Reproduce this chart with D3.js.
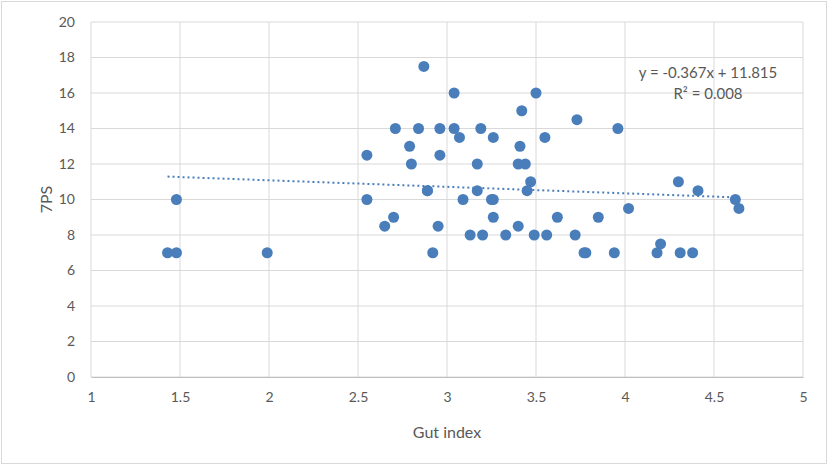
<!DOCTYPE html>
<html>
<head>
<meta charset="utf-8">
<script src="https://cdnjs.cloudflare.com/ajax/libs/d3/7.8.5/d3.min.js"></script>
<style>
  body { margin: 0; background: #fff; }
  svg { display: block; }
  text { font-family: Lato, "Open Sans", sans-serif; fill: #595959; }
</style>
</head>
<body>
<svg id="canvas"></svg>
<script>
// Gut index (x) vs 7PS (y)
const gutIndex = [
  1.43, 1.48, 1.48, 1.99,
  2.55, 2.55, 2.65, 2.70, 2.71, 2.79, 2.80, 2.84, 2.87, 2.89, 2.89, 2.92, 2.95, 2.96, 2.96,
  3.04, 3.04, 3.07, 3.09, 3.13, 3.17, 3.17, 3.19, 3.20, 3.25, 3.26, 3.26, 3.26,
  3.33, 3.40, 3.40, 3.41, 3.42, 3.44, 3.45, 3.47, 3.49, 3.50, 3.55, 3.56, 3.62,
  3.72, 3.73, 3.77, 3.78, 3.85, 3.94, 3.96, 4.02,
  4.18, 4.20, 4.30, 4.31, 4.38, 4.41, 4.62, 4.64
];
const sevenPS = [
  7, 7, 10, 7,
  12.5, 10, 8.5, 9, 14, 13, 12, 14, 17.5, 10.5, 10.5, 7, 8.5, 12.5, 14,
  16, 14, 13.5, 10, 8, 12, 10.5, 14, 8, 10, 13.5, 9, 10,
  8, 12, 8.5, 13, 15, 12, 10.5, 11, 8, 16, 13.5, 8, 9,
  8, 14.5, 7, 7, 9, 7, 14, 9.5,
  7, 7.5, 11, 7, 7, 10.5, 10, 9.5
];
const xTicks = [1, 1.5, 2, 2.5, 3, 3.5, 4, 4.5, 5];
const yTicks = [0, 2, 4, 6, 8, 10, 12, 14, 16, 18, 20];
const trendSlope = -0.367;
const trendIntercept = 11.815;
const trendLabel = ["y = -0.367x + 11.815", "R² = 0.008"];

const width = 830;
const height = 466;
const margin = { top: 22, right: 27, bottom: 89, left: 91 };
const innerWidth = width - margin.left - margin.right;
const innerHeight = height - margin.top - margin.bottom;

const svg = d3.select("#canvas").attr("width", width).attr("height", height);

// chart border
svg.append("rect")
  .attr("x", 1.5).attr("y", 1.5)
  .attr("width", width - 5).attr("height", height - 4)
  .attr("fill", "#fff")
  .attr("stroke", "#d9d9d9");

const xScale = d3.scaleLinear().domain([1, 5]).range([0, innerWidth]);
const yScale = d3.scaleLinear().domain([0, 20]).range([innerHeight, 0]);

const g = svg.append("g").attr("transform", `translate(${margin.left}, ${margin.top})`);

// grid
g.append("g").selectAll("line")
  .data(xTicks)
  .join("line")
  .attr("x1", d => xScale(d)).attr("x2", d => xScale(d))
  .attr("y1", 0).attr("y2", innerHeight)
  .attr("stroke", "#d9d9d9").attr("stroke-width", 1);
g.append("g").selectAll("line")
  .data(yTicks)
  .join("line")
  .attr("x1", 0).attr("x2", innerWidth)
  .attr("y1", d => yScale(d)).attr("y2", d => yScale(d))
  .attr("stroke", "#d9d9d9").attr("stroke-width", 1);

// axes (labels only)
const xAxis = d3.axisBottom(xScale).tickValues(xTicks).tickSize(0).tickPadding(15).tickFormat(d3.format(""));
const yAxis = d3.axisLeft(yScale).tickValues(yTicks).tickSize(0).tickPadding(16);

g.append("g")
  .attr("transform", `translate(0, ${innerHeight})`)
  .call(xAxis)
  .attr("font-family", null).attr("font-size", 14)
  .call(a => a.select(".domain").attr("stroke", "#bfbfbf"))
  .call(a => a.selectAll("text").attr("fill", "#595959"));

g.append("g")
  .call(yAxis)
  .attr("font-family", null).attr("font-size", 14)
  .call(a => a.select(".domain").remove())
  .call(a => a.selectAll("text").attr("fill", "#595959"));

// axis titles
svg.append("text")
  .attr("x", margin.left + innerWidth / 2)
  .attr("y", 438)
  .attr("text-anchor", "middle")
  .style("font-size", "16px")
  .text("Gut index");

svg.append("text")
  .attr("transform", `translate(52, ${margin.top + innerHeight / 2}) rotate(-90)`)
  .attr("text-anchor", "middle")
  .style("font-size", "16px")
  .text("7PS");

// trend line
const xMin = d3.min(gutIndex), xMax = d3.max(gutIndex);
g.append("line")
  .attr("x1", xScale(xMin)).attr("y1", yScale(trendSlope * xMin + trendIntercept))
  .attr("x2", xScale(xMax)).attr("y2", yScale(trendSlope * xMax + trendIntercept))
  .attr("stroke", "#4a7ebb")
  .attr("stroke-width", 2)
  .attr("stroke-dasharray", "2,3");

// points
g.append("g").selectAll("circle")
  .data(gutIndex.map((x, i) => ({ x, y: sevenPS[i] })))
  .join("circle")
  .attr("cx", d => xScale(d.x))
  .attr("cy", d => yScale(d.y))
  .attr("r", 5.5)
  .attr("fill", "#4a7ebb");

// trendline label
const lbl = svg.append("text")
  .attr("text-anchor", "middle")
  .style("font-size", "15px");
lbl.selectAll("tspan")
  .data(trendLabel)
  .join("tspan")
  .attr("x", 708)
  .attr("y", (d, i) => 78 + i * 21)
  .text(d => d);
</script>
</body>
</html>
